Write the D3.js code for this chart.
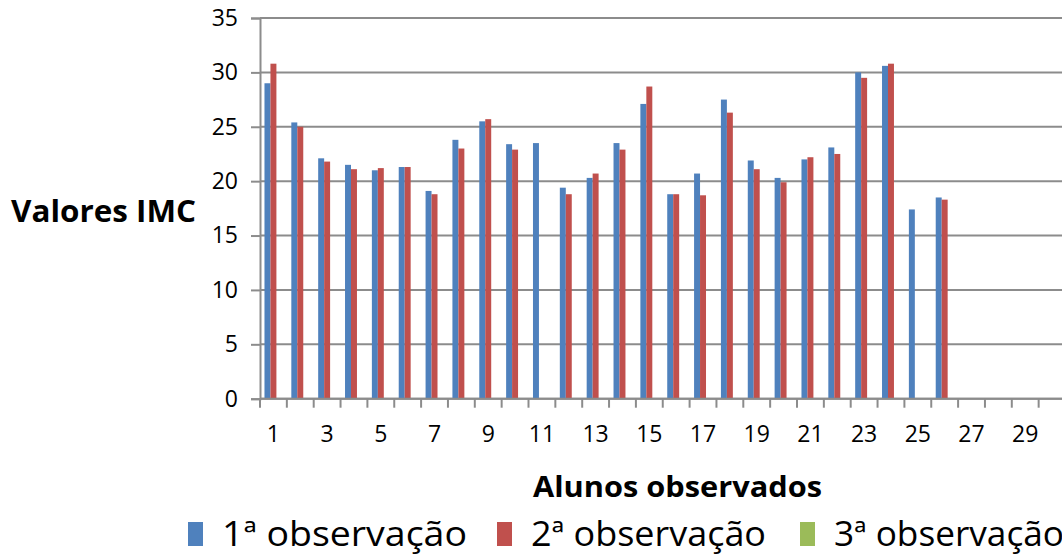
<!DOCTYPE html>
<html>
<head>
<meta charset="utf-8">
<script src="https://cdn.jsdelivr.net/npm/d3@7"></script>
<style>
  body { margin: 0; background: #fff; }
  svg { display: block; font-family: "Open Sans", "Noto Sans", sans-serif; }
</style>
</head>
<body>
<div id="chart"></div>
<script>
/* IMC values per student, three observations */

const alunos = d3.range(1, 31);   // students 1..30
const obs1 = [29.0, 25.4, 22.1, 21.5, 21.0, 21.3, 19.1, 23.8, 25.5, 23.4,
              23.5, 19.4, 20.3, 23.5, 27.1, 18.8, 20.7, 27.5, 21.9, 20.3,
              22.0, 23.1, 30.0, 30.6, 17.4, 18.5, null, null, null, null];
const obs2 = [30.8, 25.0, 21.8, 21.1, 21.2, 21.3, 18.8, 23.0, 25.7, 22.9,
              null, 18.8, 20.7, 22.9, 28.7, 18.8, 18.7, 26.3, 21.1, 19.9,
              22.2, 22.5, 29.5, 30.8, null, 18.3, null, null, null, null];
const obs3 = new Array(30).fill(null);   // 3rd observation has no values
const seriesNames = ["1ª observação", "2ª observação", "3ª observação"];
const seriesColors = ["#4F81BD", "#C0504D", "#9BBB59"];
const yTicks = [0, 5, 10, 15, 20, 25, 30, 35];

const width = 1062, height = 557;
const margin = {top: 18, left: 260, bottom: 398.7};
const plotRight = 1065.5;

const svg = d3.select("#chart")
    .append("svg")
    .attr("width", width)
    .attr("height", height);

const x = d3.scaleBand()   // one band per student
    .domain(alunos)
    .range([margin.left, plotRight])
    .padding(0);

const x1 = d3.scaleBand()  // bars inside each band, 150% gap
    .domain([0, 1, 2])
    .range([0, x.bandwidth()])
    .paddingInner(0)
    .paddingOuter(0.75);

const y = d3.scaleLinear()
    .domain([0, 35])
    .range([margin.bottom, margin.top]);

// gridlines
svg.append("g")
    .selectAll("line")
    .data(yTicks)
    .join("line")
    .attr("x1", margin.left)
    .attr("x2", plotRight)
    .attr("y1", d => y(d))
    .attr("y2", d => y(d))
    .attr("stroke", "#8c8c8c")
    .attr("stroke-width", 2);

// y axis
const yAxis = svg.append("g")
    .attr("transform", `translate(${margin.left},0)`)
    .call(d3.axisLeft(y).tickValues(yTicks).tickSize(9).tickPadding(13));
yAxis.select(".domain").attr("stroke", "#8c8c8c").attr("stroke-width", 2);
yAxis.selectAll(".tick line").attr("stroke", "#8c8c8c").attr("stroke-width", 2);
yAxis.selectAll(".tick text")
    .attr("font-size", 23)
    .attr("font-family", "Open Sans")
    .attr("fill", "#000");

// x axis: ticks on band edges, labels on odd students
const xAxis = svg.append("g")
    .attr("transform", `translate(0,${margin.bottom})`);
xAxis.selectAll("line.edge")
    .data(d3.range(0, 31))
    .join("line")
    .attr("class", "edge")
    .attr("x1", i => margin.left + i * x.step())
    .attr("x2", i => margin.left + i * x.step())
    .attr("y1", 0)
    .attr("y2", 9)
    .attr("stroke", "#8c8c8c")
    .attr("stroke-width", 2);
xAxis.selectAll("text")
    .data(alunos.filter(d => d % 2 === 1))
    .join("text")
    .text(d => d)
    .attr("x", d => x(d) + x.bandwidth() / 2)
    .attr("y", 43)
    .attr("text-anchor", "middle")
    .attr("font-size", 23)
    .attr("fill", "#000");

// bars
const series = [obs1, obs2, obs3];
series.forEach((vals, s) => {
    svg.append("g")
        .attr("fill", seriesColors[s])
        .selectAll("rect")
        .data(alunos.map((a, i) => ({a: a, v: vals[i]})).filter(d => d.v != null))
        .join("rect")
        .attr("x", d => x(d.a) + x1(s))
        .attr("width", x1.bandwidth())
        .attr("y", d => y(d.v))
        .attr("height", d => y(0) - y(d.v));
});

// baseline redrawn over bars
svg.append("line")
    .attr("x1", margin.left)
    .attr("x2", plotRight)
    .attr("y1", y(0))
    .attr("y2", y(0))
    .attr("stroke", "#8c8c8c")
    .attr("stroke-width", 2);

// axis titles
svg.append("text")
    .text("Valores IMC")
    .attr("x", 11)
    .attr("y", 222)
    .attr("font-size", 31)
    .attr("font-weight", "bold")
    .attr("textLength", 185)
    .attr("lengthAdjust", "spacingAndGlyphs");

svg.append("text")
    .text("Alunos observados")
    .attr("x", 533)
    .attr("y", 497)
    .attr("font-size", 29)
    .attr("font-weight", "bold")
    .attr("textLength", 289)
    .attr("lengthAdjust", "spacingAndGlyphs");

// legend
const legendX = [188, 497, 800];
const legendTextLen = [245, 235, 230];
const legend = svg.append("g");
seriesNames.forEach((name, i) => {
    legend.append("rect")
        .attr("x", legendX[i])
        .attr("y", 522)
        .attr("width", 15)
        .attr("height", 24)
        .attr("fill", seriesColors[i]);
    legend.append("text")
        .text(name)
        .attr("x", legendX[i] + 34)
        .attr("y", 546)
        .attr("font-size", 34)
        .attr("textLength", legendTextLen[i])
        .attr("lengthAdjust", "spacingAndGlyphs");
});
</script>
</body>
</html>
